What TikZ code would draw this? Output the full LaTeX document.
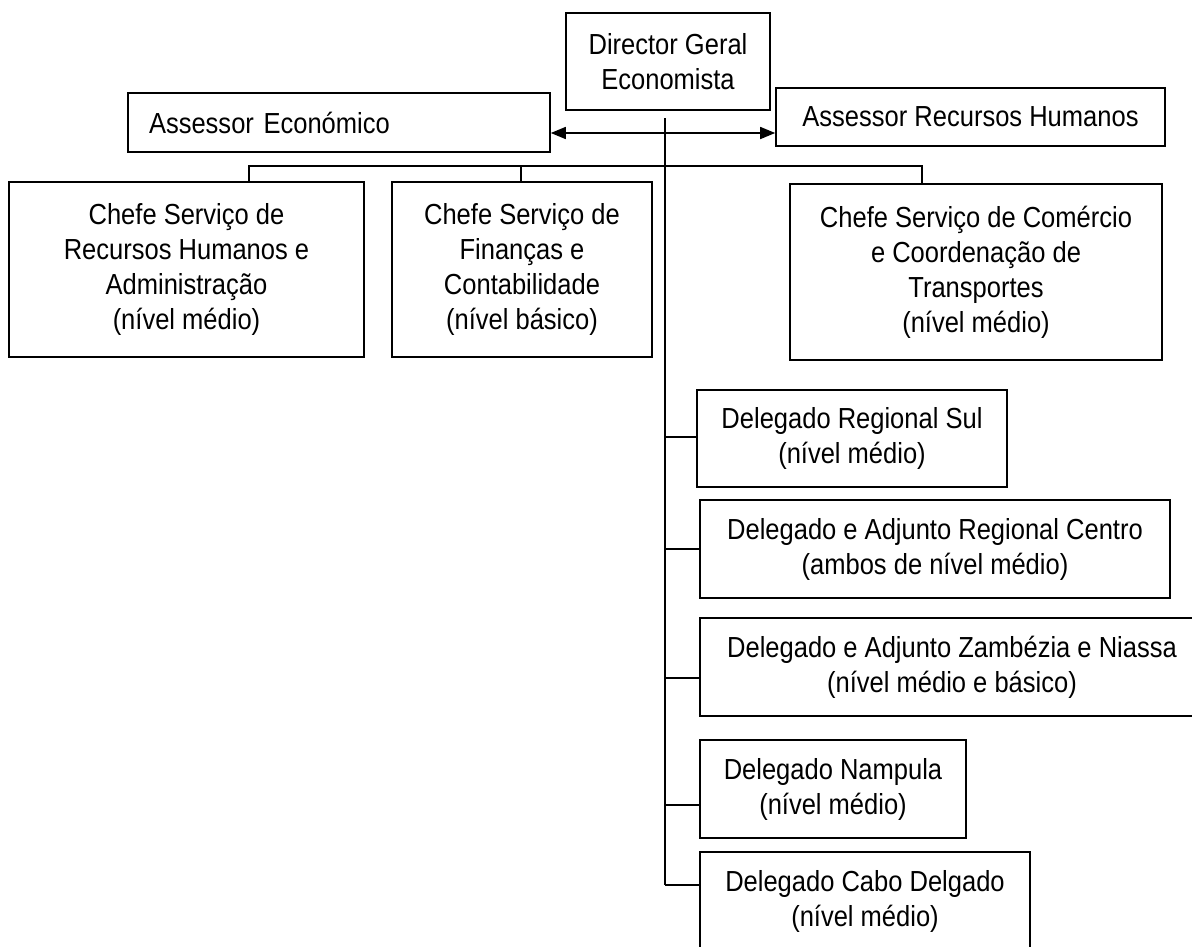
\documentclass[tikz,border=0pt]{standalone}
\usepackage{fontspec}
\setmainfont{Liberation Sans}[FakeStretch=0.88]
\usetikzlibrary{arrows.meta}
\newcommand\boxfont{\fontsize{29}{35}\selectfont}
\begin{document}
\begin{tikzpicture}[x=1pt,y=-1pt,
  box/.style={draw, line width=1.6pt, inner sep=0pt, align=center, font=\boxfont},
  link/.style={line width=1.6pt},
  tip/.style={line width=1.6pt, -{Triangle[length=15pt,width=12pt]}}]
\useasboundingbox (0,0) rectangle (1192,946);

% top level
\node[box, minimum width=204pt, minimum height=97pt] (dir) at (668,61.5) {Director Geral\\Economista};
\node[box, minimum width=422pt, minimum height=59pt, text width=380pt, align=left, inner xsep=21pt] (aecon) at (339,122.5) {Assessor Económico};
\node[box, minimum width=389pt, minimum height=58pt] (arh) at (970.5,117) {Assessor Recursos Humanos};

% chiefs
\node[box, minimum width=355pt, minimum height=175pt] (b1) at (186.5,269.5) {Chefe Serviço de\\Recursos Humanos e\\Administração\\(nível médio)};
\node[box, minimum width=260pt, minimum height=175pt] (b2) at (522,269.5) {Chefe Serviço de\\Finanças e\\Contabilidade\\(nível básico)};
\node[box, minimum width=372pt, minimum height=176pt] (b3) at (976,272) {Chefe Serviço de Comércio\\e Coordenação de\\Transportes\\(nível médio)};

% delegates
\node[box, minimum width=310pt, minimum height=97pt] (d1) at (852,438.5) {Delegado Regional Sul\\(nível médio)};
\node[box, minimum width=470pt, minimum height=98pt] (d2) at (935,549) {Delegado e Adjunto Regional Centro\\(ambos de nível médio)};
\node[box, minimum width=504pt, minimum height=98pt] (d3) at (952,667) {Delegado e Adjunto Zambézia e Niassa\\(nível médio e básico)};
\node[box, minimum width=266pt, minimum height=98pt] (d4) at (833,789) {Delegado Nampula\\(nível médio)};
\node[box, minimum width=330pt, minimum height=98pt] (d5) at (865,901) {Delegado Cabo Delgado\\(nível médio)};

% connector points
\coordinate (ttop) at (665,118);
\coordinate (tarr) at (665,133);
\coordinate (bl) at (249,166);
\coordinate (bm) at (521,166);
\coordinate (br) at (922,166);
\coordinate (c1) at (665,437);
\coordinate (c2) at (665,549);
\coordinate (c3) at (665,678);
\coordinate (c4) at (665,805);
\coordinate (c5) at (665,885);

% trunk
\draw[link] (ttop) -- (c5);
% advisers
\draw[tip] (tarr) -- (tarr -| aecon.east);
\draw[tip] (tarr) -- (tarr -| arh.west);
% bus to chiefs
\draw[link] (bl |- b1.north) -- (bl) -- (br) -- (br |- b3.north);
\draw[link] (bm) -- (bm |- b2.north);
% delegates
\draw[link] (c1) -- (c1 -| d1.west);
\draw[link] (c2) -- (c2 -| d2.west);
\draw[link] (c3) -- (c3 -| d3.west);
\draw[link] (c4) -- (c4 -| d4.west);
\draw[link] (c5) -- (c5 -| d5.west);
\end{tikzpicture}
\end{document}
